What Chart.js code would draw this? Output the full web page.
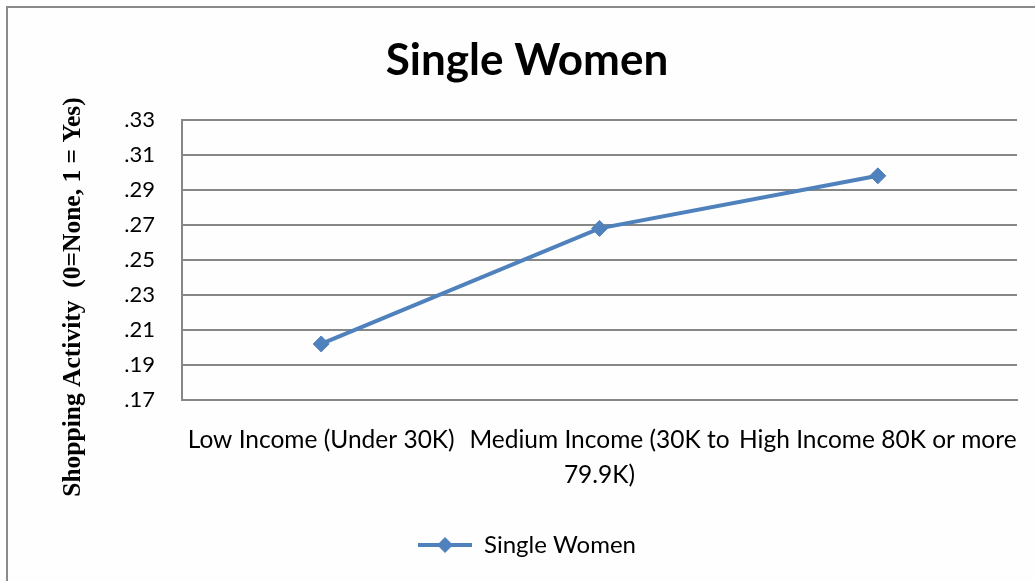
<!DOCTYPE html>
<html>
<head>
<meta charset="utf-8">
<script src="https://cdn.jsdelivr.net/npm/chart.js@4/dist/chart.umd.min.js"></script>
<style>
html,body{margin:0;padding:0;background:#fefefe;overflow:hidden}
#wrap{position:absolute;left:0;top:0;width:1035px;height:581px}
#frame{position:absolute;left:6px;top:6px;width:1100px;height:700px;border:2px solid #8a8a8a}
</style>
</head>
<body>
<div id="wrap">
<div id="frame"></div>
<canvas id="chart" width="1035" height="581"></canvas>
</div>
<script>
// income groups and mean shopping activity
const kategori=["Low Income (Under 30K)",["Medium Income (30K to","79.9K)"],"High Income 80K or more"];
const nilai=[0.202,0.268,0.298];
const judul="Single Women";
const judulY="Shopping Activity  (0=None, 1 = Yes)";
const yMin=0.17, yMax=0.33, yStep=0.02;

const biru="#4f81bd";
const abu="#878787";

// legend icon: short line with a diamond on it
const ikon=document.createElement("canvas");
ikon.width=54;ikon.height=18;
(function(){
 const c=ikon.getContext("2d");
 c.strokeStyle=biru;c.lineWidth=4;
 c.beginPath();c.moveTo(0,9);c.lineTo(54,9);c.stroke();
 c.fillStyle=biru;
 c.beginPath();c.moveTo(27,1);c.lineTo(35,9);c.lineTo(27,17);c.lineTo(19,9);c.closePath();c.fill();
})();

// rotated y title, drawn by hand so it sits where it should
const yTitle={
 id:"yTitle",
 afterDraw(ch){
  const c=ch.ctx;
  c.save();
  c.translate(73,297);
  c.rotate(-Math.PI/2);
  c.font="bold 25.5px 'Liberation Serif'";
  c.fillStyle="#000";
  c.textAlign="center";c.textBaseline="middle";
  c.fillText(judulY,0,0);
  c.restore();
 }
};

new Chart(document.getElementById("chart"),{
 type:"line",
 data:{labels:kategori,datasets:[{
  label:judul,data:nilai,
  borderColor:biru,backgroundColor:biru,borderWidth:4,
  pointStyle:"rectRot",pointRadius:8,pointBorderWidth:1,pointHoverRadius:8,
  tension:0
 }]},
 plugins:[yTitle],
 options:{
  responsive:false,animation:false,
  layout:{padding:{left:37,right:18,top:0,bottom:14}},
  plugins:{
   title:{display:true,text:judul,color:"#000",
    font:{family:"Lato",weight:"bold",size:44},padding:{top:34,bottom:33}},
   legend:{position:"bottom",
    labels:{usePointStyle:true,pointStyleWidth:54,color:"#000",
     font:{family:"Lato",size:24},padding:10,
     generateLabels:ch=>[{text:judul,pointStyle:ikon,fontColor:"#000",datasetIndex:0,hidden:false,lineWidth:0,strokeStyle:"transparent",fillStyle:"transparent"}]}},
   tooltip:{enabled:false}
  },
  scales:{
   x:{offset:true,
    afterFit(s){s.height=123;s.paddingLeft=0;s.paddingRight=0;},
    grid:{display:false,drawTicks:false},
    border:{color:abu,width:2},
    ticks:{color:"#000",font:{family:"Lato",size:24.5,lineHeight:1.43},padding:23,maxRotation:0,autoSkip:false}},
   y:{min:yMin,max:yMax,
    afterFit(s){s.width=145;},
    grid:{color:abu,lineWidth:2,drawTicks:false},
    border:{color:abu,width:2},
    ticks:{stepSize:yStep,color:"#000",font:{family:"Lato",size:22},padding:27,
     callback:v=>v.toFixed(2).replace(/^0/,"")}}
  }
 }
});
</script>
</body>
</html>
